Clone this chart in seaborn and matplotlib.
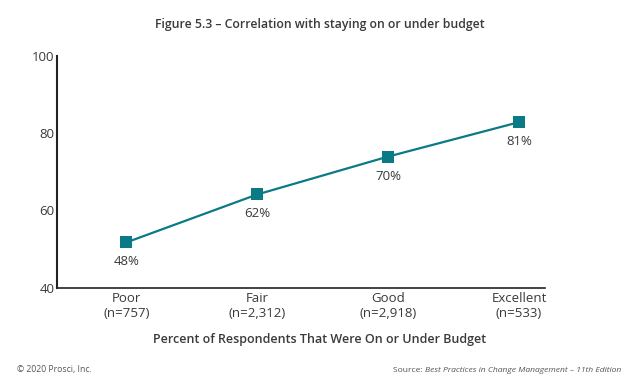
import numpy as np
import pandas as pd
import matplotlib.pyplot as plt
import seaborn as sns

sns.set_theme(style="white")
plt.rcParams['font.family'] = ['Open Sans', 'DejaVu Sans']

categories = ['Poor\n(n=757)', 'Fair\n(n=2,312)', 'Good\n(n=2,918)', 'Excellent\n(n=533)']
plotted = [51.7, 64.1, 73.9, 82.8]
labels = ['48%', '62%', '70%', '81%']

df = pd.DataFrame({'pos': np.arange(len(categories)), 'value': plotted})

teal = '#0a7a86'
txt = '#3a3a3a'

fig = plt.figure(figsize=(6.39, 3.84), dpi=100)
ax = fig.add_axes([0.0892, 0.251, 0.764, 0.604])

sns.lineplot(data=df, x='pos', y='value', ax=ax, color=teal, linewidth=1.6,
             marker='s', markersize=8, markeredgewidth=0)

for x, y, lab in zip(df['pos'], df['value'], labels):
    ax.annotate(lab, (x, y), xytext=(0, -14), textcoords='offset points',
                ha='center', va='center', fontsize=9.5, color=txt)

ax.set_ylim(40, 100)
ax.set_yticks([40, 60, 80, 100])
ax.set_xlim(-0.53, 3.2)
ax.set_xticks(df['pos'])
ax.set_xticklabels(categories, fontsize=9.5, color=txt, linespacing=1.2)
ax.set_xticks([0.41, 1.33, 2.27, 3.2], minor=True)
ax.tick_params(axis='x', which='major', length=0, pad=3)
ax.tick_params(axis='x', which='minor', direction='in', length=4, width=0.8, color='#888888')
ax.tick_params(axis='y', direction='in', length=6, width=1.2, color='#222222',
               labelsize=9.5, labelcolor=txt, pad=2)

for s in ['top', 'right']:
    ax.spines[s].set_visible(False)
for s in ['left', 'bottom']:
    ax.spines[s].set_color('#222222')
ax.spines['left'].set_linewidth(1.5)
ax.spines['bottom'].set_linewidth(1.2)
ax.set_xlabel('')
ax.set_ylabel('')

fig.text(0.5, 0.935, 'Figure 5.3 – Correlation with staying on or under budget',
         ha='center', va='center', fontsize=8.8, fontweight='semibold', color=txt)
fig.text(0.5, 0.117, 'Percent of Respondents That Were On or Under Budget',
         ha='center', va='center', fontsize=9, fontweight='semibold', color=txt)
fig.text(0.026, 0.039, '© 2020 Prosci, Inc.', ha='left', va='center',
         fontsize=6.2, color='#555555')

src = fig.text(0.972, 0.036, 'Best Practices in Change Management – 11th Edition',
               ha='right', va='center', fontsize=6.1, style='italic', color='#555555')
fig.canvas.draw()
bb = src.get_window_extent()
fig.text(bb.x0 / fig.bbox.width, 0.036, 'Source: ', ha='right', va='center',
         fontsize=6.1, color='#555555')

fig.savefig('out.png', dpi=100)
